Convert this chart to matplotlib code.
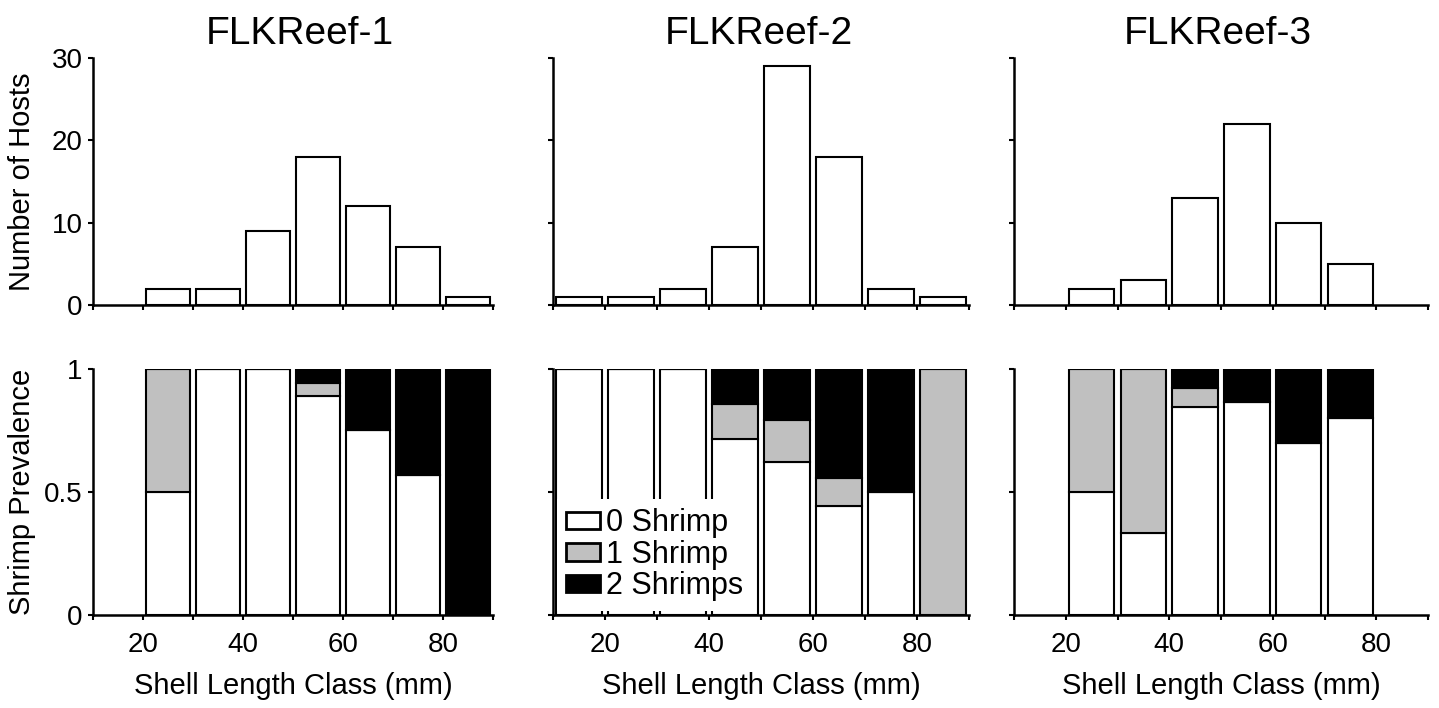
import numpy as np
import matplotlib
matplotlib.use("Agg")
import matplotlib.pyplot as plt
from matplotlib.patches import Patch

plt.rcParams['font.family'] = ['Liberation Sans', 'DejaVu Sans']

# size classes (bar centres, mm) and data
reefs = ['FLKReef-1', 'FLKReef-2', 'FLKReef-3']

cls1 = [25, 35, 45, 55, 65, 75, 85]
cls2 = [15, 25, 35, 45, 55, 65, 75, 85]
cls3 = [25, 35, 45, 55, 65, 75]

hosts1 = [2, 2, 9, 18, 12, 7, 1]
hosts2 = [1, 1, 2, 7, 29, 18, 2, 1]
hosts3 = [2, 3, 13, 22, 10, 5]

# fraction of hosts with 0 / 1 / 2 shrimps
zero1 = [0.5, 1.0, 1.0, 0.889, 0.75, 0.57, 0.0]
one1 = [0.5, 0.0, 0.0, 0.055, 0.0, 0.0, 0.0]
two1 = [0.0, 0.0, 0.0, 0.056, 0.25, 0.43, 1.0]

zero2 = [1.0, 1.0, 1.0, 0.714, 0.62, 0.444, 0.5, 0.0]
one2 = [0.0, 0.0, 0.0, 0.143, 0.172, 0.111, 0.0, 1.0]
two2 = [0.0, 0.0, 0.0, 0.143, 0.208, 0.445, 0.5, 0.0]

zero3 = [0.5, 0.333, 0.846, 0.864, 0.7, 0.8]
one3 = [0.5, 0.667, 0.077, 0.0, 0.0, 0.0]
two3 = [0.0, 0.0, 0.077, 0.136, 0.3, 0.2]

classes = [cls1, cls2, cls3]
hosts = [hosts1, hosts2, hosts3]
zeros = [zero1, zero2, zero3]
ones = [one1, one2, one3]
twos = [two1, two2, two3]

GREY = '#c0c0c0'
W = 8.8
LW = 1.5

fig = plt.figure(figsize=(14.39, 7.08), dpi=100)

lefts = [0.0646, 0.3843, 0.7047]
widths = [0.278, 0.2891, 0.2877]
title_x = [0.517, 0.495, 0.493]
top_b, top_h = 0.5692, 0.3489
bot_b, bot_h = 0.1314, 0.3475


def style(ax, showy):
    for s in ['top', 'right']:
        ax.spines[s].set_visible(False)
    for s in ['left', 'bottom']:
        ax.spines[s].set_linewidth(1.8)
    ax.set_xlim(10, 90)
    ax.set_xticks(np.arange(10, 91, 10))
    ax.tick_params(axis='both', direction='out', length=3.5, width=1.5,
                   labelsize=20)
    ax.tick_params(axis='x', pad=9)
    ax.tick_params(axis='y', pad=4)
    if not showy:
        ax.set_yticklabels([])


for i in range(3):
    # top row: number of hosts
    ax = fig.add_axes([lefts[i], top_b, widths[i], top_h])
    ax.bar(classes[i], hosts[i], width=W, color='white', edgecolor='black',
           linewidth=LW)
    ax.set_ylim(0, 30)
    ax.set_yticks([0, 10, 20, 30])
    style(ax, i == 0)
    ax.set_xticklabels([])
    ax.set_title(reefs[i], fontsize=28, pad=10, x=title_x[i])
    if i == 0:
        ax.set_ylabel('Number of Hosts', fontsize=21)
        ax.yaxis.set_label_coords(-0.142, 0.5)

    # bottom row: shrimp prevalence
    ax = fig.add_axes([lefts[i], bot_b, widths[i], bot_h])
    z = np.array(zeros[i])
    o = np.array(ones[i])
    t = np.array(twos[i])
    ax.bar(classes[i], z, width=W, color='white', edgecolor='black',
           linewidth=LW)
    ax.bar(classes[i], o, bottom=z, width=W, color=GREY, edgecolor='black',
           linewidth=LW)
    ax.bar(classes[i], t, bottom=z + o, width=W, color='black',
           edgecolor='black', linewidth=LW)
    ax.set_ylim(0, 1)
    ax.set_yticks([0, 0.5, 1])
    ax.set_yticklabels(['0', '0.5', '1'])
    style(ax, i == 0)
    ax.set_xticklabels(['', '20', '', '40', '', '60', '', '80', ''])
    ax.set_xlabel('Shell Length Class (mm)', fontsize=21, labelpad=10)
    if i == 0:
        ax.set_ylabel('Shrimp Prevalence', fontsize=21)
        ax.yaxis.set_label_coords(-0.142, 0.5)
    if i == 1:
        handles = [Patch(facecolor='white', edgecolor='black', linewidth=2),
                   Patch(facecolor=GREY, edgecolor='black', linewidth=2),
                   Patch(facecolor='black', edgecolor='black', linewidth=2)]
        leg = ax.legend(handles, ['0 Shrimp', '1 Shrimp', '2 Shrimps'],
                        loc='lower left', bbox_to_anchor=(0.01, 0.018),
                        fontsize=22, frameon=True, fancybox=False,
                        edgecolor='none', facecolor='white', framealpha=1,
                        handlelength=1.1, handleheight=0.5,
                        handletextpad=0.2, labelspacing=0.05,
                        borderpad=0.3, borderaxespad=0)

fig.savefig('out.png', dpi=100)
